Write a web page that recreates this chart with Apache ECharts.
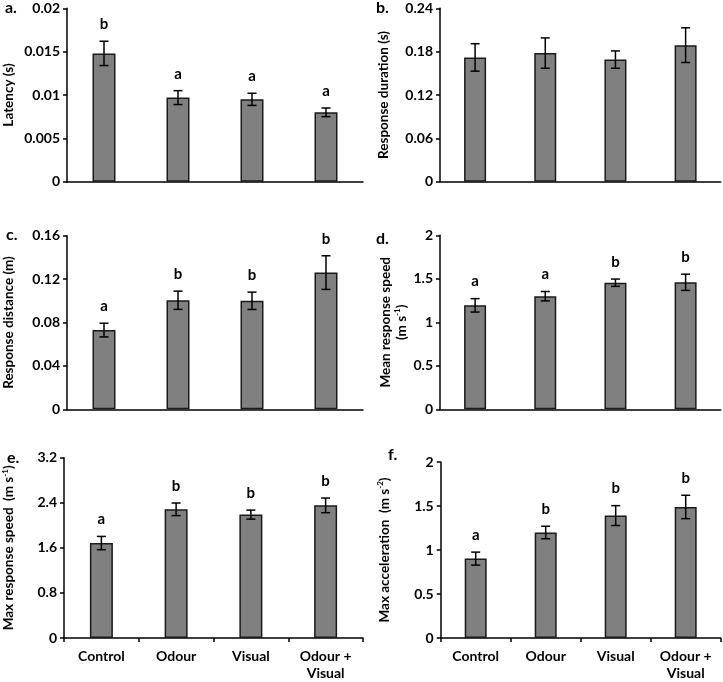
<!DOCTYPE html>
<html>
<head>
<meta charset="utf-8">
<script src="https://cdn.jsdelivr.net/npm/echarts@6/dist/echarts.min.js"></script>
<style>
html,body{margin:0;padding:0;background:#fff;}
#chart{width:723px;height:682px;}
</style>
</head>
<body>
<div id="chart"></div>
<script>
// ---- Data ----
const categories = ['Control', 'Odour', 'Visual', 'Odour +\nVisual'];

const latencyMean = [0.0148, 0.0097, 0.0095, 0.0080];
const latencyErr = [0.0014, 0.0008, 0.0007, 0.0005];
const latencyLetters = ['b', 'a', 'a', 'a'];

const durationMean = [0.172, 0.178, 0.169, 0.189];
const durationErr = [0.019, 0.021, 0.012, 0.024];
const durationLetters = ['', '', '', ''];

const distanceMean = [0.073, 0.1005, 0.100, 0.126];
const distanceErr = [0.0063, 0.0084, 0.008, 0.0155];
const distanceLetters = ['a', 'b', 'b', 'b'];

const meanSpeedMean = [1.195, 1.30, 1.455, 1.46];
const meanSpeedErr = [0.077, 0.054, 0.042, 0.093];
const meanSpeedLetters = ['a', 'a', 'b', 'b'];

const maxSpeedMean = [1.685, 2.284, 2.19, 2.354];
const maxSpeedErr = [0.118, 0.112, 0.08, 0.13];
const maxSpeedLetters = ['a', 'b', 'b', 'b'];

const maxAccMean = [0.902, 1.199, 1.391, 1.489];
const maxAccErr = [0.074, 0.071, 0.113, 0.133];
const maxAccLetters = ['a', 'b', 'b', 'b'];

const yTicks = {
  a: {max: 0.02, interval: 0.005},
  b: {max: 0.24, interval: 0.06},
  c: {max: 0.16, interval: 0.04},
  d: {max: 2, interval: 0.5},
  e: {max: 3.2, interval: 0.8},
  f: {max: 2, interval: 0.5}
};

// ---- Layout / style ----
const FONT = 'Lato, "Open Sans", sans-serif';
const panels = [
  {key: 'a', mean: latencyMean, err: latencyErr, letters: latencyLetters,
   grid: {left: 66, top: 8.3, width: 297, height: 173.4}, showCat: false, barW: 23,
   name: '{n|Latency (s)}', nameGap: 50, panelPos: {left: 5, top: 0}},
  {key: 'b', mean: durationMean, err: durationErr, letters: durationLetters,
   grid: {left: 440, top: 8.3, width: 280.7, height: 173.4}, showCat: false, barW: 22,
   name: '{n|Response duration (s)}', nameGap: 48, panelPos: {left: 376, top: 0}},
  {key: 'c', mean: distanceMean, err: distanceErr, letters: distanceLetters,
   grid: {left: 66, top: 235.7, width: 297, height: 173.6}, showCat: false, barW: 23,
   name: '{n|Response distance (m)}', nameGap: 50, panelPos: {left: 6, top: 227}},
  {key: 'd', mean: meanSpeedMean, err: meanSpeedErr, letters: meanSpeedLetters,
   grid: {left: 440, top: 235.3, width: 280.7, height: 174}, showCat: false, barW: 22,
   name: '{n|Mean response speed}\n{n|(m s}{s|-1}{n|)}', nameGap: 29, panelPos: {left: 376, top: 231}},
  {key: 'e', mean: maxSpeedMean, err: maxSpeedErr, letters: maxSpeedLetters,
   grid: {left: 64, top: 457.7, width: 299, height: 181.6}, showCat: true, barW: 23,
   name: '{n|Max response speed  (m s}{s|-1}{n|)}', nameGap: 47, panelPos: {left: 7, top: 450}},
  {key: 'f', mean: maxAccMean, err: maxAccErr, letters: maxAccLetters,
   grid: {left: 440.7, top: 462, width: 280, height: 177.3}, showCat: true, barW: 22,
   name: '{n|Max acceleration  (m s}{s|-2}{n|)}', nameGap: 48, panelPos: {left: 388, top: 447}}
];

const grids = [], xAxes = [], yAxes = [], series = [], titles = [];

panels.forEach((p, gi) => {
  grids.push(Object.assign({containLabel: false}, p.grid));
  titles.push({
    text: p.key + '.', left: p.panelPos.left, top: p.panelPos.top,
    textStyle: {fontFamily: FONT, fontWeight: 'bold', fontSize: 16, color: '#000'},
    padding: 0
  });
  xAxes.push({
    type: 'category', gridIndex: gi, data: categories,
    axisLine: {show: true, lineStyle: {color: '#000', width: 1.5}},
    axisTick: {show: p.showCat, length: 4, lineStyle: {color: '#000', width: 1.5}},
    axisLabel: {show: p.showCat, interval: 0, margin: 10, color: '#000',
      fontFamily: FONT, fontWeight: 'bold', fontSize: 14, lineHeight: 17},
    splitLine: {show: false}
  });
  const yt = yTicks[p.key];
  yAxes.push({
    type: 'value', gridIndex: gi, min: 0, max: yt.max, interval: yt.interval,
    axisLine: {show: true, lineStyle: {color: '#000', width: 1.5}},
    axisTick: {show: true, length: 4, lineStyle: {color: '#000', width: 1.5}},
    axisLabel: {margin: 7, color: '#000', fontFamily: FONT, fontWeight: 'bold', fontSize: 14,
      formatter: v => String(+v.toFixed(4))},
    splitLine: {show: false},
    name: p.name, nameLocation: 'middle', nameGap: p.nameGap, nameRotate: 90,
    nameTextStyle: {
      color: '#000', fontFamily: FONT, fontWeight: 'bold', fontSize: 13.5, lineHeight: 16,
      rich: {
        n: {fontFamily: FONT, fontWeight: 'bold', fontSize: 13.5, color: '#000', lineHeight: 16},
        s: {fontFamily: FONT, fontWeight: 'bold', fontSize: 8, color: '#000', verticalAlign: 'top', lineHeight: 16}
      }
    }
  });
  series.push({
    type: 'bar', xAxisIndex: gi, yAxisIndex: gi, data: p.mean,
    barWidth: p.barW,
    itemStyle: {color: '#808080', borderColor: '#1a1a1a', borderWidth: 1.5},
    silent: true, animation: false
  });
  const letters = p.letters;
  series.push({
    type: 'custom', xAxisIndex: gi, yAxisIndex: gi,
    data: p.mean.map((m, i) => [i, m, p.err[i]]),
    clip: false, animation: false, silent: true, z: 5,
    renderItem: function (params, api) {
      const i = api.value(0), m = api.value(1), e = api.value(2);
      const top = api.coord([i, m + e]);
      const bot = api.coord([i, m - e]);
      const cap = 4.5;
      const st = {stroke: '#000', lineWidth: 1.5};
      const children = [
        {type: 'line', shape: {x1: top[0], y1: top[1], x2: bot[0], y2: bot[1]}, style: st},
        {type: 'line', shape: {x1: top[0] - cap, y1: top[1], x2: top[0] + cap, y2: top[1]}, style: st},
        {type: 'line', shape: {x1: bot[0] - cap, y1: bot[1], x2: bot[0] + cap, y2: bot[1]}, style: st}
      ];
      const lt = letters[params.dataIndex];
      if (lt) {
        children.push({
          type: 'text',
          style: {text: lt, x: top[0], y: top[1] - 17, align: 'center', verticalAlign: 'middle',
            fill: '#000', font: 'bold 15px ' + FONT}
        });
      }
      return {type: 'group', children: children};
    }
  });
});

const chart = echarts.init(document.getElementById('chart'), null, {renderer: 'canvas'});
chart.setOption({
  backgroundColor: '#fff',
  animation: false,
  title: titles,
  grid: grids,
  xAxis: xAxes,
  yAxis: yAxes,
  series: series
});
</script>
</body>
</html>
